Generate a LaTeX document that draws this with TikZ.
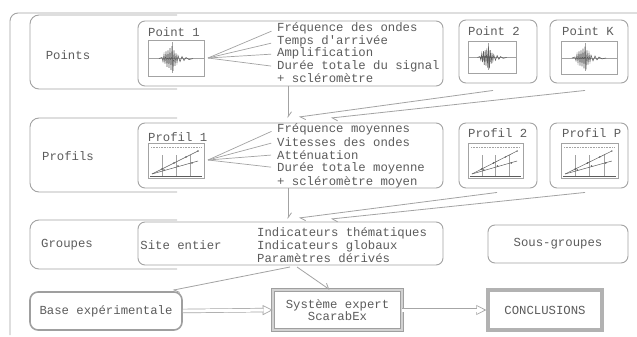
\documentclass[tikz,border=0pt]{standalone}
\usepackage{fontspec}
\setmonofont{Liberation Mono}
\usetikzlibrary{arrows.meta,calc}
\definecolor{ink}{gray}{0.36}
\definecolor{rulec}{gray}{0.64}
\newcommand\myseis[4]{%
\begin{scope}[shift={(#1,#2)},xscale=#3,yscale=#4]
 \draw[rulec,line width=0.7pt] (0,0) rectangle (56,35);
 \draw[rulec,line width=0.6pt] (0,18) -- (56,18);
 \draw[rulec,line width=0.5pt] (24,2) -- (24,32);
 \draw[ink,line width=0.55pt] (11,18) -- (14,17) -- (15,21) -- (16,14) -- (17,23) -- (18,11) -- (19,26) -- (20,10) -- (21,27) -- (22,8) -- (23,29) -- (24,6) -- (25,30) -- (26,10) -- (27,25) -- (28,13) -- (29,22) -- (30,15) -- (32,21) -- (34,16) -- (36,20) -- (38,17) -- (41,19) -- (45,18);
\end{scope}}
\newcommand\myprof[4]{%
\begin{scope}[shift={(#1,#2)},xscale=#3,yscale=#4]
 \draw[rulec,line width=0.7pt] (0,0) rectangle (56,35);
 \draw[rulec,line width=0.6pt,densely dotted] (3,4) -- (53,4);
 \foreach \gx in {14,28,42} \draw[rulec,line width=0.4pt] (\gx,12) -- (\gx,33);
 \draw[ink,line width=1pt] (2,33) -- (54,33);
 \draw[ink,line width=0.5pt] (4,31) -- (50,8);
 \draw[ink,line width=0.5pt] (4,31) -- (50,18);
 \foreach \px/\py in {14/26,26/20,38/14,50/8,16/27,30/23,44/20} \fill[ink] (\px,\py) circle (0.8);
\end{scope}}
\begin{document}
\begin{tikzpicture}[x=1pt,y=-1pt,
  every node/.style={font=\ttfamily\fontsize{12.3}{12.5}\selectfont, text=ink, inner sep=0pt},
  box/.style={draw=rulec, line width=0.9pt, rounded corners=7pt, fill=white},
  rowframe/.style={draw=rulec, line width=0.9pt, rounded corners=9pt},
  fan/.style={draw=rulec, line width=0.7pt, shorten >=6pt},
  arr/.style={draw=rulec, line width=0.8pt, -{Straight Barb[harpoon, length=5pt, width=7pt]}},
  headonly/.style={draw=gray!70, line width=0.7pt, -{Triangle[open, length=10pt, width=10pt]}},
  dblline/.style={draw=gray!70, line width=0.7pt, double=white, double distance=3pt, shorten >=9pt}]
\useasboundingbox (0,0) rectangle (637,337);
\fill[white] (0,0) rectangle (637,337);
% outer frame
\draw[rulec, line width=0.9pt, rounded corners=8pt] (10,335) -- (10,13) -- (637,13);
% row frames
\draw[rowframe] (177,15) -- (30,15) -- (30,89) -- (177,89);
\draw[rowframe] (177,118) -- (30,118) -- (30,192) -- (177,192);
\draw[rowframe] (177,220) -- (30,220) -- (30,269) -- (177,269);
% row labels
\node (lp) at (68,55) {Points};
\node (lpr) at (68,156) {Profils};
\node (lg) at (67,245) {Groupes};
% boxes
\node[box, minimum width=305pt, minimum height=65pt] (p1) at (290.5,53.5) {};
\node[box, minimum width=78pt, minimum height=63pt] (p2) at (498,51.5) {};
\node[box, minimum width=78pt, minimum height=63pt] (pk) at (589,51.5) {};
\node[box, minimum width=305pt, minimum height=65pt] (pr1) at (290.5,155.5) {};
\node[box, minimum width=78pt, minimum height=65pt] (pr2) at (498,155.5) {};
\node[box, minimum width=78pt, minimum height=65pt] (prp) at (589,155.5) {};
\node[box, minimum width=305pt, minimum height=43pt] (site) at (290.5,243.5) {};
\node[box, minimum width=140pt, minimum height=38pt] (sous) at (558,244) {Sous-groupes};
\node[box, draw=gray!75, line width=1.6pt, rounded corners=8pt, minimum width=152pt, minimum height=38pt] (base) at (106,311) {Base expérimentale};
\node[draw=gray!75, line width=0.7pt, double=gray!35, double distance=2.2pt, fill=white, minimum width=129pt, minimum height=40pt, align=center] (sys) at (337.5,310) {Système expert\\ScarabEx};
\node[draw=gray!60, line width=3.5pt, fill=white, minimum width=114pt, minimum height=40pt] (conc) at (545,310) {CONCLUSIONS};
% texts row 1
\node[anchor=base west] (t11) at (277,32) {Fréquence des ondes};
\node[anchor=base west] (t12) at (277,45) {Temps d'arrivée};
\node[anchor=base west] (t13) at (277,57) {Amplification};
\node[anchor=base west] (t14) at (277,70) {Durée totale du signal};
\node[anchor=base west] (t15) at (277,82) {+ scléromètre};
% texts row 2
\node[anchor=base west] (t21) at (277,132) {Fréquence moyennes};
\node[anchor=base west] (t22) at (277,146) {Vitesses des ondes};
\node[anchor=base west] (t23) at (277,159) {Atténuation};
\node[anchor=base west] (t24) at (277,171) {Durée totale moyenne};
\node[anchor=base west] (t25) at (277,185) {+ scléromètre moyen};
% texts row 3
\node[anchor=base west] (t31) at (257,236) {Indicateurs thématiques};
\node[anchor=base west] (t32) at (257,249) {Indicateurs globaux};
\node[anchor=base west] (t33) at (257,262) {Paramètres dérivés};
\node (se) at (181,245) {Site entier};
% plot labels
\node[anchor=base west] (l1) at (148,37) {Point 1};
\node[anchor=base west] (l2) at (468,36) {Point 2};
\node[anchor=base west] (lk) at (562,36) {Point K};
\node[anchor=base west] (m1) at (148,141) {Profil 1};
\node[anchor=base west] (m2) at (468,137) {Profil 2};
\node[anchor=base west] (mp) at (562,137) {Profil P};
% plots
\myseis{148}{40}{1}{1.03}
\myseis{468}{41}{0.857}{0.914}
\myseis{561}{41}{1}{0.943}
\myprof{148}{143}{1}{1}
\myprof{468}{143}{0.982}{1}
\myprof{561}{143}{1.018}{1}
% fans
\coordinate (o1) at (208,58);
\coordinate (o2) at (208,160);
\foreach \t in {t11,t12,t13,t14} \draw[fan] (o1) -- (\t.west);
\foreach \t in {t21,t22,t23,t24} \draw[fan] (o2) -- (\t.west);
% arrows between rows
\coordinate (a1) at (288,118);
\coordinate (a1b) at (299,117);
\coordinate (a1c) at (331,118);
\coordinate (a2) at (288,219);
\coordinate (a2b) at (299,218);
\coordinate (a2c) at (331,219);
\draw[arr] (p1.south -| a1) -- (a1);
\draw[arr] ($(p2.south)+(-5,7)$) -- (a1b);
\draw[arr] ($(pk.south)+(-4,7)$) -- (a1c);
\draw[arr] (pr1.south -| a2) -- (a2);
\draw[arr] ($(pr2.south)+(-1,4)$) -- (a2b);
\draw[arr] ($(prp.south)+(-4,4)$) -- (a2c);
\coordinate (s1) at (290,267);
\coordinate (s2) at (297,267);
\draw[arr] (s1) -- ($(base.north east)+(-10,-1)$);
\draw[arr] (s2) -- ($(sys.north west)+(57,0)$);
% double arrows
\draw[headonly] (base.east) -- (sys.west);
\draw[dblline] (base.east) -- (sys.west);
\draw[headonly] (sys.east) -- (conc.west);
\draw[dblline] (sys.east) -- (conc.west);
\end{tikzpicture}
\end{document}
